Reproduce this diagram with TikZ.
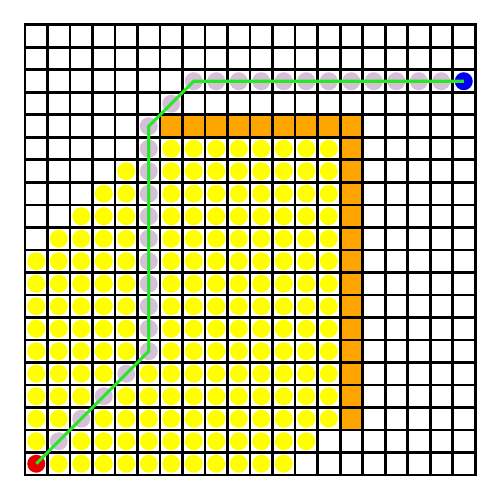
\documentclass[tikz,border=0pt]{standalone}
\usepackage{tikz}
\definecolor{dotyellow}{RGB}{255,255,0}
\definecolor{wallorange}{RGB}{255,165,0}
\definecolor{pathpurple}{RGB}{214,192,216}
\definecolor{pathgreen}{RGB}{40,230,40}
\definecolor{goalblue}{RGB}{0,0,240}
\definecolor{startred}{RGB}{232,0,0}
\tikzset{
  cellfill/.style={fill=wallorange},
  gridline/.style={line width=1.7pt, black},
  dot/.style={circle, inner sep=0pt, minimum size=0.36cm},
  visited/.style={dot, fill=dotyellow},
  route/.style={dot, fill=pathpurple},
  startdot/.style={dot, fill=startred},
  goaldot/.style={dot, fill=goalblue},
  routeline/.style={line width=1.8pt, pathgreen}
}
\begin{document}
\begin{tikzpicture}[x=0.45cm,y=0.45cm]
\useasboundingbox (-1.1111,-1.1111) rectangle (21.1111,21.1111);
% orange wall cells (row r from top -> y = 19-r)
\foreach \c in {6,...,14} { \fill[cellfill] (\c,15) rectangle ++(1,1); }
\foreach \r in {5,...,17} { \fill[cellfill] (14,19-\r) rectangle ++(1,1); }
% grid
\foreach \i in {0,...,20} {
  \draw[gridline] (\i,0) -- (\i,20);
  \draw[gridline] (0,\i) -- (20,\i);
}
\draw[gridline, line cap=rect] (0,0) rectangle (20,20);
% yellow visited cells
\foreach \r/\cols in {5/{6,...,13}, 6/{4,6,7,...,13}, 7/{3,4,6,7,...,13},
  8/{2,3,4,6,7,...,13}, 9/{1,2,3,4,6,7,...,13}, 10/{0,...,4,6,7,...,13},
  11/{0,...,4,6,7,...,13}, 12/{0,...,4,6,7,...,13}, 13/{0,...,4,6,7,...,13},
  14/{0,...,4,6,7,...,13}, 15/{0,...,3,5,6,...,13}, 16/{0,1,2,4,5,...,13},
  17/{0,1,3,4,...,13}, 18/{0,2,3,...,12}, 19/{1,2,...,11}} {
  \foreach \c in \cols {
    \node[visited] (y-\c-\r) at (\c+0.5,19.5-\r) {};
  }
}
% purple route cells
\foreach \c in {7,...,18} { \node[route] (p-\c-2) at (\c+0.5,17.5) {}; }
\node[route] (p-6-3) at (6.5,16.5) {};
\foreach \r in {4,...,14} { \node[route] (p-5-\r) at (5.5,19.5-\r) {}; }
\foreach \r in {15,...,18} {
  \pgfmathtruncatemacro{\cc}{19-\r}
  \node[route] (p-\cc-\r) at (\cc+0.5,19.5-\r) {};
}
% start and goal
\node[startdot] (start) at (0.5,0.5) {};
\node[goaldot] (goal) at (19.5,17.5) {};
% green route line
\draw[routeline] (start.center) -- (p-5-14.center) -- (p-5-4.center)
  -- (p-7-2.center) -- (goal.center);
\end{tikzpicture}
\end{document}
